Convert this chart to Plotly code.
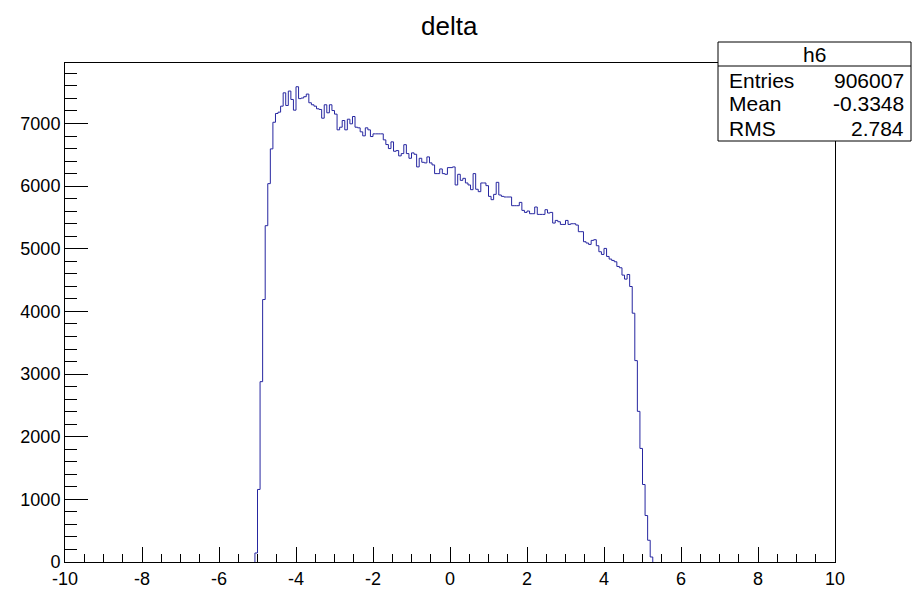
import plotly.graph_objects as go

# ---- data ----
x_min = -10.0
x_max = 10.0
n_bins = 300
first_bin = 74  # index of first non-empty bin
counts = [
    144, 1158, 2879, 4190, 5369, 6040, 6595, 7020, 7160, 7181,
    7277, 7490, 7288, 7518, 7384, 7213, 7587, 7397, 7407, 7428,
    7470, 7331, 7299, 7277, 7235, 7224, 7085, 7299, 7171, 7299,
    7207, 7150, 6899, 6941, 7048, 6899, 7069, 6995, 7112, 6941,
    6931, 6867, 6803, 6931, 6899, 6792, 6835, 6835, 6835, 6835,
    6739, 6664, 6600, 6707, 6557, 6568, 6483, 6520, 6662, 6520,
    6445, 6531, 6509, 6307, 6445, 6381, 6371, 6467, 6371, 6339,
    6200, 6200, 6275, 6200, 6189, 6296, 6296, 6307, 6019, 6189,
    6093, 6125, 6051, 6019, 5944, 6200, 5950, 5912, 6051, 6051,
    6008, 5837, 5784, 5869, 6061, 5859, 5837, 5827, 5827, 5827,
    5688, 5688, 5688, 5741, 5613, 5581, 5603, 5560, 5560, 5667,
    5549, 5549, 5549, 5624, 5571, 5581, 5411, 5453, 5432, 5389,
    5389, 5453, 5389, 5400, 5400, 5379, 5273, 5273, 5113, 5092,
    5070, 5134, 5145, 5049, 4953, 4910, 5006, 4878, 4836, 4814,
    4793, 4718, 4697, 4580, 4516, 4590, 4398, 3972, 3215, 2405,
    1813, 1237, 742, 347, 80,
]
x_tick_vals = [-10, -8, -6, -4, -2, 0, 2, 4, 6, 8, 10]
x_tick_text = ["-10", "-8", "-6", "-4", "-2", "0", "2", "4", "6", "8", "10"]
hist_name = "h6"
title_text = "delta"
stats_labels = ["Entries", "Mean", "RMS"]
stats_values = ["906007", "-0.3348", "2.784"]
y_max = 7966

# ---- build step outline from bin edges ----
bw = (x_max - x_min) / n_bins
xs = [x_min + first_bin * bw]
ys = [0]
for i, c in enumerate(counts):
    xs.append(x_min + (first_bin + i) * bw)
    ys.append(c)
xs.append(x_min + (first_bin + len(counts)) * bw)
ys.append(0)

FONT = "Liberation Sans, Arial, Helvetica, sans-serif"
LINE_COL = "rgb(38,38,160)"

fig = go.Figure()
fig.add_trace(go.Scatter(
    x=xs, y=ys, mode="lines", line=dict(shape="hv", color=LINE_COL, width=1),
    hoverinfo="skip", showlegend=False,
))

L, R, T, B = 65, 88, 63, 28
W, H = 923, 590
pw, ph = W - L - R, H - T - B

def px(xp):
    return (xp - L) / pw

def py(yp):
    return (H - B - yp) / ph

fig.update_layout(
    width=W, height=H,
    margin=dict(l=L, r=R, t=T, b=B, pad=0, autoexpand=False),
    paper_bgcolor="white", plot_bgcolor="white",
    font=dict(family=FONT, size=18, color="black"),
    showlegend=False,
)
fig.update_xaxes(
    range=[x_min, x_max], tickmode="array", tickvals=x_tick_vals, ticktext=x_tick_text,
    automargin=False,
    showgrid=False, zeroline=False,
    showline=True, linecolor="black", linewidth=1, mirror=True,
    ticks="inside", ticklen=15, tickcolor="black", tickwidth=1,
    minor=dict(ticks="inside", ticklen=8, dtick=0.5, tick0=0, tickcolor="black", showgrid=False),
    tickfont=dict(size=18, family=FONT),
)
fig.update_yaxes(
    range=[0, y_max], dtick=1000, tick0=0, automargin=False,
    showgrid=False, zeroline=False,
    showline=True, linecolor="black", linewidth=1, mirror=True,
    ticks="inside", ticklen=23, tickcolor="black", tickwidth=1,
    minor=dict(ticks="inside", ticklen=12, dtick=200, tickcolor="black", showgrid=False),
    tickfont=dict(size=18, family=FONT),
)

# title
fig.add_annotation(
    text=title_text, xref="paper", yref="paper", x=px(449), y=py(26),
    xanchor="center", yanchor="middle", showarrow=False,
    font=dict(size=26, family=FONT, color="black"),
)

# stats box
bx0, bx1, by0, by1, bsep = 718, 911, 42, 141, 66
fig.add_shape(type="rect", xref="paper", yref="paper",
              x0=px(bx0), x1=px(bx1), y0=py(by1), y1=py(by0),
              line=dict(color="black", width=1), fillcolor="white", layer="above")
fig.add_shape(type="line", xref="paper", yref="paper",
              x0=px(bx0), x1=px(bx1), y0=py(bsep), y1=py(bsep),
              line=dict(color="black", width=1), layer="above")
fig.add_annotation(text=hist_name, xref="paper", yref="paper",
                   x=px((bx0 + bx1) / 2), y=py(55), xanchor="center", yanchor="middle",
                   showarrow=False, font=dict(size=21, family=FONT, color="black"))
row_y = [80, 104, 128]
for lab, val, ry in zip(stats_labels, stats_values, row_y):
    fig.add_annotation(text=lab, xref="paper", yref="paper",
                       x=px(727), y=py(ry), xanchor="left", yanchor="middle",
                       showarrow=False, font=dict(size=21, family=FONT, color="black"))
    fig.add_annotation(text=val, xref="paper", yref="paper",
                       x=px(906), y=py(ry), xanchor="right", yanchor="middle",
                       showarrow=False, font=dict(size=21, family=FONT, color="black"))

fig.write_html("out.html")
